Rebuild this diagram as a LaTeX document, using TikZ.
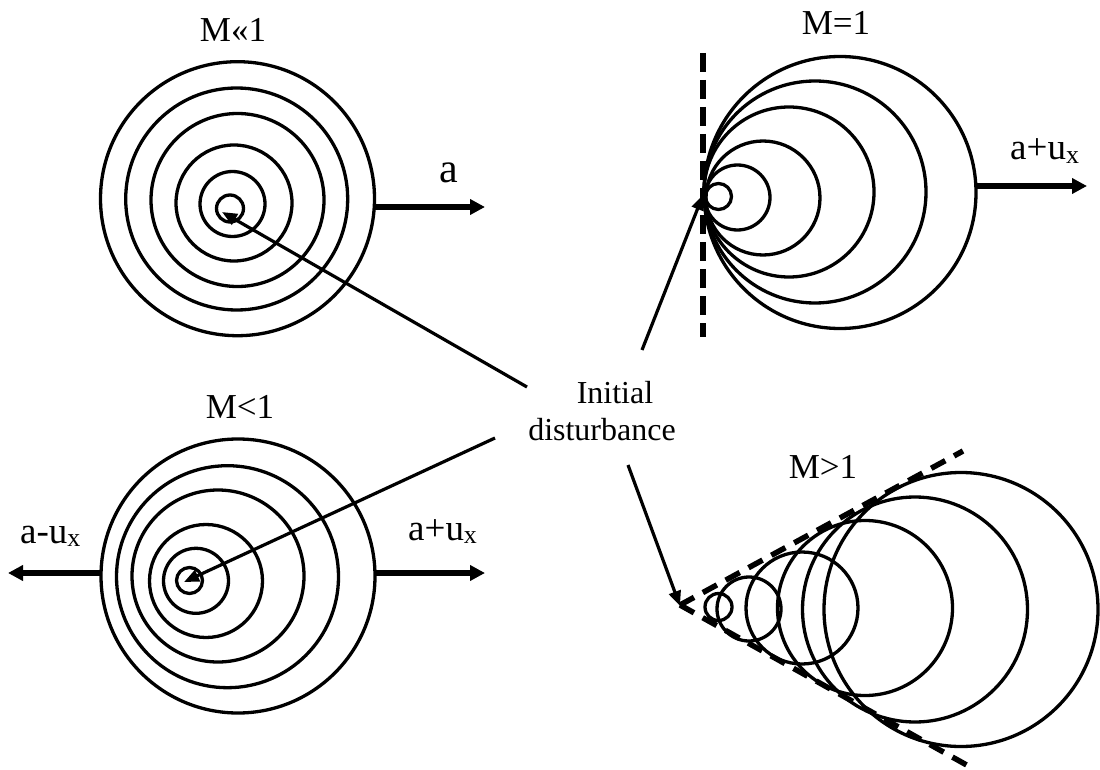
\documentclass[tikz,border=0pt]{standalone}
\usepackage{fontspec}
\setmainfont{Liberation Serif}
\usetikzlibrary{arrows.meta}
\begin{document}
\begin{tikzpicture}[x=1pt,y=-1pt,
  wave/.style={line width=3.3pt},
  flow/.style={line width=5.5pt,-{Triangle[length=15pt,width=15pt]}},
  pointer/.style={line width=3.2pt,-{Triangle[length=15pt,width=12pt]}},
  machlbl/.style={font=\fontsize{35}{40}\selectfont,inner sep=0pt,anchor=base},
  vellbl/.style={font=\fontsize{37}{42}\selectfont,inner sep=0pt,anchor=base west},
  infolbl/.style={font=\fontsize{32}{37}\selectfont,inner sep=0pt,anchor=base},
  front/.style={line width=5.5pt,dash pattern=on 19pt off 8pt},
  cone/.style={line width=5.5pt,dash pattern=on 16pt off 10pt}]
\useasboundingbox (0,0) rectangle (1100,770);

% ---------- M << 1 ----------
\foreach \cx/\cy/\r in {237.5/198.7/137,236.7/199/111,237.5/200/86.5,234/203/58,232.5/204/32.5,230/208.5/13.5}
  \draw[wave] (\cx,\cy) circle[radius=\r];
\node[machlbl] (mll) at (233,42) {M«1};
\node[font=\fontsize{42}{48}\selectfont,inner sep=0pt,anchor=base] (la) at (449,183) {a};
\coordinate (a1s) at (375,207);
\coordinate (a1e) at (485,207);
\draw[flow] (a1s) -- (a1e);
\coordinate (t1) at (222,212);

% ---------- M = 1 ----------
\coordinate (fr1) at (703,53);
\coordinate (fr2) at (703,337);
\draw[front] (fr1) -- (fr2);
\foreach \cx/\cy/\r in {718.5/196.5/13,737.5/197.5/32.5,763/198/57,789/192/85,815/192/111,840/192.5/136}
  \draw[wave] (\cx,\cy) circle[radius=\r];
\node[machlbl] (meq) at (836,35) {M=1};
\node[vellbl] (lau1) at (1010,160) {a+u\textsubscript{x}};
\coordinate (a2s) at (977,186);
\coordinate (a2e) at (1087,186);
\draw[flow] (a2s) -- (a2e);
\coordinate (t3) at (703,195);

% ---------- M < 1 ----------
\foreach \cx/\cy/\r in {238/576/137,227.5/576.7/111,218/576/86,206/581/56.5,196/580.8/32.5,189.5/580.5/13}
  \draw[wave] (\cx,\cy) circle[radius=\r];
\node[machlbl] (mlt) at (240,418) {M<1};
\node[vellbl] (lamu) at (20,543) {a-u\textsubscript{x}};
\node[vellbl] (lau2) at (408,540) {a+u\textsubscript{x}};
\coordinate (a3s) at (375,573);
\coordinate (a3e) at (485,573);
\coordinate (a4s) at (100,573);
\coordinate (a4e) at (8,573);
\draw[flow] (a3s) -- (a3e);
\draw[flow] (a4s) -- (a4e);
\coordinate (t2) at (184,582);

% ---------- M > 1 ----------
\coordinate (apex) at (680,605);
\coordinate (cu) at (963,451);
\coordinate (cl) at (972,768);
\draw[cone] (apex) -- (cu);
\draw[cone] (apex) -- (cl);
\foreach \cx/\cy/\r in {718.5/607/13.5,749/609/32,802/608/56,865/608/87.5,915/609.5/112.5,961/609.5/137}
  \draw[wave] (\cx,\cy) circle[radius=\r];
\node[machlbl] (mgt) at (823,478) {M>1};
\coordinate (t4) at (680,606);

% ---------- Initial disturbance ----------
\node[infolbl] (init1) at (615,403) {Initial};
\node[infolbl] (init2) at (602,440) {disturbance};
\coordinate (p1) at (527,387);
\coordinate (p2) at (495,438);
\coordinate (p3) at (642,350);
\coordinate (p4) at (628,465);
\draw[pointer] (p1) -- (t1);
\draw[pointer] (p2) -- (t2);
\draw[pointer] (p3) -- (t3);
\draw[pointer] (p4) -- (t4);
\end{tikzpicture}
\end{document}
